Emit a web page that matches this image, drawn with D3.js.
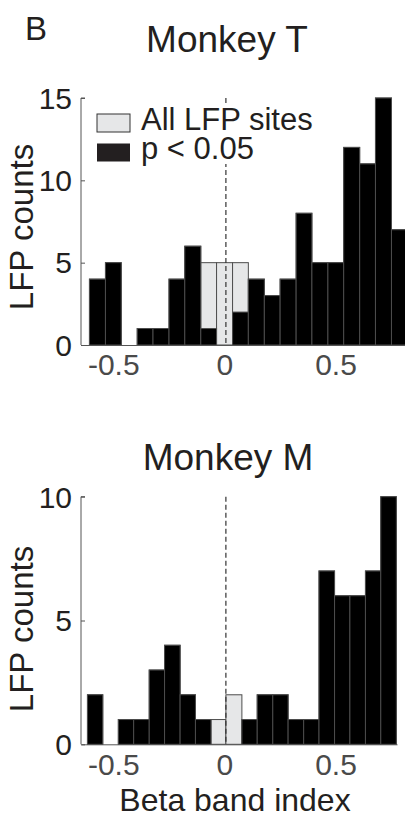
<!DOCTYPE html>
<html>
<head>
<meta charset="utf-8">
<script src="https://cdn.jsdelivr.net/npm/d3@7"></script>
<style>
  body { margin: 0; background: #fff; }
  svg { display: block; font-family: "Liberation Sans", Arial, sans-serif; }
</style>
</head>
<body>
<svg id="chart"></svg>
<script>
// bin edges (beta band index) and counts
const topEdges = [-0.614, -0.542, -0.471, -0.399, -0.328, -0.256, -0.185, -0.113, -0.042,
  0.030, 0.101, 0.173, 0.244, 0.316, 0.387, 0.459, 0.530, 0.602, 0.673, 0.745, 0.816];
const topAll = [4, 5, 0, 1, 1, 4, 6, 5, 5, 5, 4, 3, 4, 8, 5, 5, 12, 11, 15, 7];
const topSig = [4, 5, 0, 1, 1, 4, 6, 1, 0, 2, 4, 3, 4, 8, 5, 5, 12, 11, 15, 7];

const bottomEdges = [-0.623, -0.554, -0.484, -0.415, -0.345, -0.276, -0.206, -0.137, -0.067,
  0, 0.072, 0.141, 0.211, 0.280, 0.350, 0.419, 0.489, 0.558, 0.628, 0.697, 0.767];
const bottomAll = [2, 0, 1, 1, 3, 4, 2, 1, 1, 2, 1, 2, 2, 1, 1, 7, 6, 6, 7, 10];
const bottomSig = [2, 0, 1, 1, 3, 4, 2, 1, 0, 0, 1, 2, 2, 1, 1, 7, 6, 6, 7, 10];

const xTicks = [-0.5, 0, 0.5];
const topYTicks = [0, 5, 10, 15];
const bottomYTicks = [0, 5, 10];

const W = 405, H = 823;
const svg = d3.select("#chart").attr("width", W).attr("height", H);

const dark = "#231f20";
const barStroke = "#4d4d4d";

function panel(opt) {
  const x = d3.scaleLinear().domain(opt.xDomain).range([81, opt.xRight]);
  const y = d3.scaleLinear().domain(opt.yDomain).range([opt.y0, opt.y1]);
  const g = svg.append("g");

  const bins = (counts) => counts.map((c, i) => ({ x0: opt.edges[i], x1: opt.edges[i + 1], c }));

  // all sites (gray) underneath
  g.selectAll("rect.all").data(bins(opt.all).filter(d => d.c > 0)).join("rect")
    .attr("class", "all")
    .attr("x", d => x(d.x0)).attr("width", d => x(d.x1) - x(d.x0))
    .attr("y", d => y(d.c)).attr("height", d => y(0) - y(d.c))
    .attr("fill", "#e6e7e8").attr("stroke", barStroke).attr("stroke-width", 1);

  // significant sites (black) on top
  g.selectAll("rect.sig").data(bins(opt.sig).filter(d => d.c > 0)).join("rect")
    .attr("class", "sig")
    .attr("x", d => x(d.x0)).attr("width", d => x(d.x1) - x(d.x0))
    .attr("y", d => y(d.c)).attr("height", d => y(0) - y(d.c))
    .attr("fill", "#000").attr("stroke", barStroke).attr("stroke-width", 1);

  // dashed zero line
  g.append("line")
    .attr("x1", x(0)).attr("x2", x(0))
    .attr("y1", y(opt.yDomain[1])).attr("y2", y(0))
    .attr("stroke", "#333").attr("stroke-width", 1.2)
    .attr("stroke-dasharray", "5,3");

  // y axis
  const ya = g.append("g").attr("transform", "translate(81,0)")
    .call(d3.axisRight(y).tickValues(opt.yTicks).tickSize(4).tickFormat(""));
  ya.select(".domain").attr("stroke", "#555").attr("d", `M4,${y(opt.yDomain[1])}H0V${y(0)}`);
  ya.selectAll(".tick line").attr("stroke", "#555");
  g.selectAll("text.ytick").data(opt.yTicks).join("text")
    .attr("class", "ytick")
    .attr("x", 72).attr("y", d => y(d)).attr("dy", "0.36em")
    .attr("text-anchor", "end").attr("font-size", 30).attr("fill", dark)
    .text(d => d);

  // x axis
  const xa = g.append("g").attr("transform", `translate(0,${y(0)})`)
    .call(d3.axisBottom(x).tickValues(xTicks).tickSize(0).tickFormat(""));
  xa.select(".domain").attr("stroke", "#555");
  g.selectAll("text.xtick").data(xTicks).join("text")
    .attr("class", "xtick")
    .attr("x", d => x(d) - 1).attr("y", opt.xLabelY)
    .attr("text-anchor", "middle").attr("font-size", 30).attr("fill", "#4a4a4a")
    .text(d => d === 0 ? "0" : (d < 0 ? "-" : "") + Math.abs(d));

  // title
  g.append("text").attr("x", opt.titleX).attr("y", opt.titleY)
    .attr("text-anchor", "middle").attr("font-size", 37).attr("fill", dark)
    .text(opt.title);

  // y label
  g.append("text")
    .attr("transform", `translate(33,${opt.yLabelY}) rotate(-90)`)
    .attr("text-anchor", "middle").attr("font-size", 33).attr("fill", dark)
    .text("LFP counts");

  return { x, y, g };
}

const topPanel = panel({
  edges: topEdges, all: topAll, sig: topSig,
  xDomain: [-0.652, 0.85], xRight: 414.8,
  yDomain: [0, 15], y0: 345, y1: 98, yTicks: topYTicks,
  xLabelY: 375, title: "Monkey T", titleX: 227, titleY: 52, yLabelY: 227
});

const bottomPanel = panel({
  edges: bottomEdges, all: bottomAll, sig: bottomSig,
  xDomain: [-0.652, 0.77], xRight: 397,
  yDomain: [0, 10], y0: 744.3, y1: 496.7, yTicks: bottomYTicks,
  xLabelY: 775, title: "Monkey M", titleX: 228, titleY: 470, yLabelY: 629
});

// legend (top panel), white background hides the dashed line behind it
const leg = svg.append("g");
leg.append("rect").attr("x", 92).attr("y", 104).attr("width", 230).attr("height", 60).attr("fill", "#fff");
leg.append("rect").attr("x", 97).attr("y", 114).attr("width", 33).attr("height", 18)
  .attr("fill", "#e6e7e8").attr("stroke", "#333").attr("stroke-width", 1);
leg.append("rect").attr("x", 97).attr("y", 143.5).attr("width", 33).attr("height", 18)
  .attr("fill", dark);
leg.append("text").attr("x", 141).attr("y", 130).attr("font-size", 31).attr("fill", dark)
  .text("All LFP sites");
leg.append("text").attr("x", 141).attr("y", 158.5).attr("font-size", 31).attr("fill", dark)
  .text("p < 0.05");

// panel letter and x label
svg.append("text").attr("x", 25).attr("y", 40).attr("font-size", 33).attr("fill", dark).text("B");
svg.append("text").attr("x", 235).attr("y", 811).attr("text-anchor", "middle")
  .attr("font-size", 32).attr("fill", dark).text("Beta band index");
</script>
</body>
</html>
